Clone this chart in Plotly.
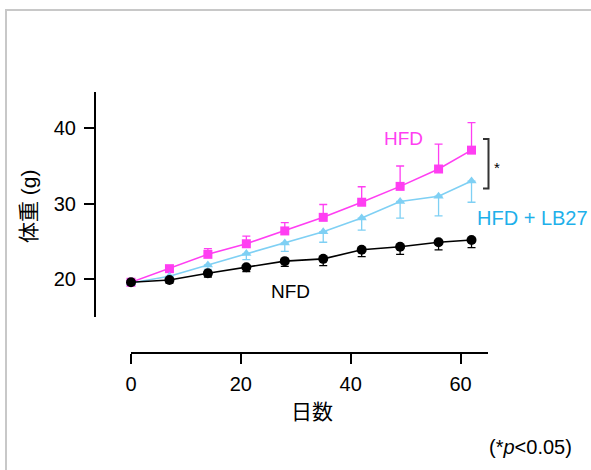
import plotly.graph_objects as go

# ---- data ----
days = [0, 7, 14, 21, 28, 35, 42, 49, 56, 62]
hfd = [19.6, 21.4, 23.3, 24.7, 26.4, 28.2, 30.2, 32.3, 34.6, 37.1]
hfd_err = [0.3, 0.4, 0.75, 1.0, 1.1, 1.7, 2.05, 2.7, 3.3, 3.65]
lb27 = [19.5, 20.4, 21.9, 23.4, 24.8, 26.3, 28.1, 30.3, 31.0, 33.0]
lb27_err = [0.3, 0.4, 0.6, 0.8, 1.1, 1.4, 1.6, 2.2, 2.6, 2.8]
nfd = [19.6, 19.9, 20.8, 21.6, 22.4, 22.7, 23.9, 24.3, 24.9, 25.2]
nfd_err = [0.3, 0.4, 0.5, 0.6, 0.7, 0.9, 0.9, 1.0, 1.0, 1.0]
x_ticks = [0, 20, 40, 60]
y_ticks = [20, 30, 40]

W, H = 591, 470
FONT = "Liberation Sans, Arial, Helvetica, sans-serif"
CJK = "Liberation Sans, Noto Sans CJK JP, sans-serif"
MAG = "#ff3ef2"
CYA = "#7fd0f4"
CYA_TXT = "#1eb0ea"


def px(x):
    return x / W


def py(y):
    return 1 - y / H


zeros = [0] * len(days)
fig = go.Figure()
fig.add_trace(go.Scatter(
    x=days, y=hfd, mode="lines+markers", cliponaxis=False,
    line=dict(color=MAG, width=1.6),
    marker=dict(symbol="square", size=9, color=MAG),
    error_y=dict(type="data", symmetric=False, array=hfd_err, arrayminus=zeros,
                 color=MAG, thickness=1.3, width=4),
))
fig.add_trace(go.Scatter(
    x=days, y=lb27, mode="lines+markers", cliponaxis=False,
    line=dict(color=CYA, width=1.6),
    marker=dict(symbol="triangle-up", size=9, color=CYA),
    error_y=dict(type="data", symmetric=False, array=zeros, arrayminus=lb27_err,
                 color=CYA, thickness=1.3, width=4),
))
fig.add_trace(go.Scatter(
    x=days, y=nfd, mode="lines+markers", cliponaxis=False,
    line=dict(color="black", width=1.6),
    marker=dict(symbol="circle", size=10, color="black"),
    error_y=dict(type="data", symmetric=False, array=zeros, arrayminus=nfd_err,
                 color="black", thickness=1.3, width=4),
))

fig.update_layout(
    width=W, height=H,
    margin=dict(l=0, r=0, t=0, b=0, autoexpand=False),
    paper_bgcolor="white", plot_bgcolor="white",
    showlegend=False,
    xaxis=dict(
        domain=[px(131), px(488)], range=[0, 65], anchor="free", position=py(353),
        showline=True, linecolor="black", linewidth=2,
        ticks="outside", ticklen=10, tickwidth=2, tickcolor="black",
        tickvals=x_ticks, ticktext=[str(v) for v in x_ticks],
        tickfont=dict(family=FONT, size=20, color="black"),
        ticklabelstandoff=3,
        showgrid=False, zeroline=False, automargin=False,
    ),
    yaxis=dict(
        domain=[py(317), py(92)], range=[15, 44.8], anchor="free", position=px(95),
        showline=True, linecolor="black", linewidth=2,
        ticks="outside", ticklen=10, tickwidth=2, tickcolor="black",
        tickvals=y_ticks, ticktext=[str(v) for v in y_ticks],
        tickfont=dict(family=FONT, size=20, color="black"),
        ticklabelstandoff=4,
        showgrid=False, zeroline=False, automargin=False,
    ),
)

# frame
fig.add_shape(type="rect", xref="paper", yref="paper",
              x0=px(6), x1=px(W + 20), y0=py(10), y1=py(H + 20),
              line=dict(color="#c8c8c8", width=2))

# significance bracket
fig.add_shape(type="path", xref="paper", yref="paper",
              path=(f"M {px(483)},{py(139)} L {px(488.5)},{py(139)} "
                    f"L {px(488.5)},{py(188.5)} L {px(483)},{py(188.5)}"),
              line=dict(color="#333333", width=2))


def ann(text, x, y, size=19, color="black", family=FONT, angle=0):
    fig.add_annotation(text=text, x=px(x), y=py(y), xref="paper", yref="paper",
                       showarrow=False, xanchor="center", yanchor="middle",
                       textangle=angle, font=dict(family=family, size=size, color=color))


ann("HFD", 403, 138, color=MAG)
ann("HFD + LB27", 532, 218, size=20, color=CYA_TXT)
ann("NFD", 290, 291)
ann("*", 497, 167, size=15)
ann("(*<i>p</i>&lt;0.05)", 530, 447, size=20)
ann("日数", 312, 411, size=21, family=CJK)
ann("体重 (g)", 28, 206, size=21, family=CJK, angle=-90)

fig.write_html(
    "out.html",
    config={"displayModeBar": False},
    post_script=("document.documentElement.style.margin='0';"
                 "document.body.style.margin='0';document.body.style.padding='0';"
                 "document.body.style.overflow='hidden';"),
)
